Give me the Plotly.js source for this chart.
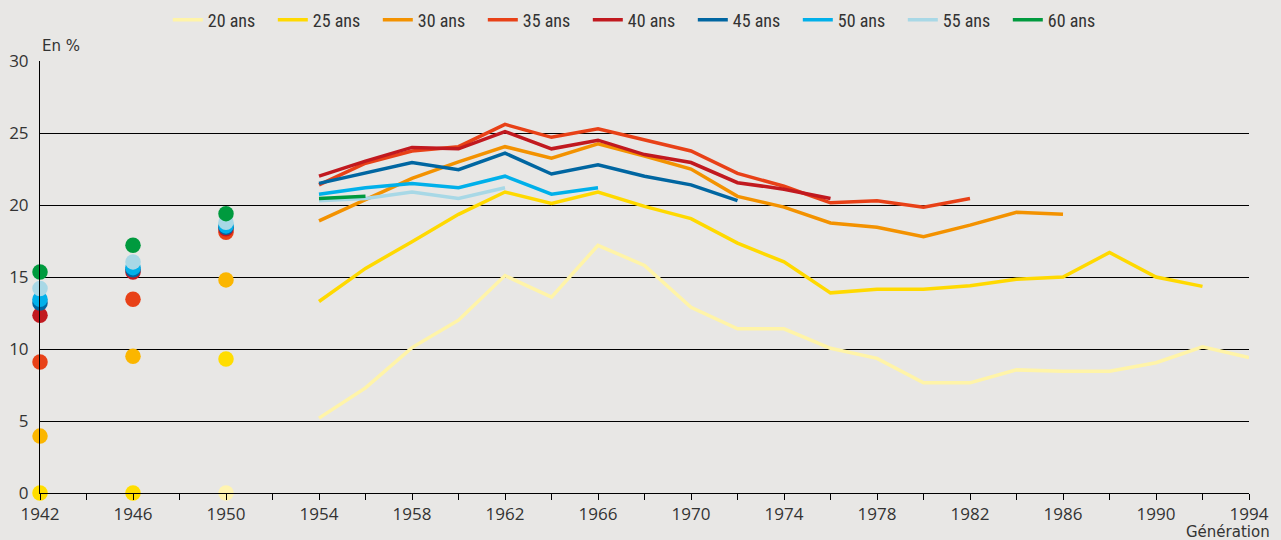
<!DOCTYPE html>
<html>
<head>
<meta charset="utf-8">
<script src="https://cdn.plot.ly/plotly-3.0.1.min.js"></script>
<style>html,body{margin:0;padding:0;background:#E8E7E5;}#chart{width:1281px;height:540px;}</style>
</head>
<body>
<div id="chart"></div>
<script>
// Dots (early generations)
const dotYears = [1942, 1946, 1950];
const dots20 = [0, 0, 0];
const dots25 = [0, 0, 9.3];
const dots30 = [3.95, 9.5, 14.8];
const dots35 = [9.1, 13.45, 18.1];
const dots40 = [12.35, 15.35, 18.35];
const dots45 = [13.2, 15.5, 18.45];
const dots50 = [13.45, 15.65, 18.55];
const dots55 = [14.2, 16.05, 18.8];
const dots60 = [15.35, 17.2, 19.4];

// Lines (generations 1954 onward, every 2 years)
const years20 = [1954,1956,1958,1960,1962,1964,1966,1968,1970,1972,1974,1976,1978,1980,1982,1984,1986,1988,1990,1992,1994];
const line20 = [5.2, 7.3, 10.1, 12.0, 15.1, 13.6, 17.2, 15.8, 12.9, 11.4, 11.4, 10.05, 9.35, 7.65, 7.65, 8.55, 8.45, 8.45, 9.05, 10.15, 9.4];
const years25 = [1954,1956,1958,1960,1962,1964,1966,1968,1970,1972,1974,1976,1978,1980,1982,1984,1986,1988,1990,1992];
const line25 = [13.3, 15.6, 17.45, 19.35, 20.9, 20.1, 20.9, 19.9, 19.05, 17.35, 16.05, 13.9, 14.15, 14.15, 14.4, 14.85, 15.0, 16.7, 15.0, 14.35];
const years30 = [1954,1956,1958,1960,1962,1964,1966,1968,1970,1972,1974,1976,1978,1980,1982,1984,1986];
const line30 = [18.9, 20.4, 21.85, 23.0, 24.05, 23.25, 24.25, 23.4, 22.5, 20.6, 19.85, 18.75, 18.45, 17.8, 18.6, 19.5, 19.35];
const years35 = [1954,1956,1958,1960,1962,1964,1966,1968,1970,1972,1974,1976,1978,1980,1982];
const line35 = [21.4, 22.9, 23.75, 24.05, 25.6, 24.7, 25.3, 24.5, 23.75, 22.2, 21.3, 20.15, 20.3, 19.85, 20.45];
const years40 = [1954,1956,1958,1960,1962,1964,1966,1968,1970,1972,1974,1976];
const line40 = [22.0, 23.05, 24.0, 23.9, 25.1, 23.9, 24.5, 23.5, 22.95, 21.55, 21.1, 20.45];
const years45 = [1954,1956,1958,1960,1962,1964,1966,1968,1970,1972];
const line45 = [21.5, 22.25, 22.95, 22.45, 23.6, 22.15, 22.8, 22.0, 21.4, 20.3];
const years50 = [1954,1956,1958,1960,1962,1964,1966];
const line50 = [20.75, 21.2, 21.5, 21.2, 22.0, 20.75, 21.2];
const years55 = [1954,1956,1958,1960,1962];
const line55 = [20.3, 20.45, 20.9, 20.45, 21.2];
const years60 = [1954,1956];
const line60 = [20.45, 20.6];

const names = ["20 ans","25 ans","30 ans","35 ans","40 ans","45 ans","50 ans","55 ans","60 ans"];
const lineColors = ["#FFF4A8","#FFD900","#F39200","#E84117","#C1191F","#0066A1","#00B0EA","#A8D8E6","#009A3E"];
const dotColors  = ["#FFF4B0","#FFDD00","#FBB600","#E84117","#C1191F","#0066A1","#00B0EA","#A8D8E6","#009A3E"];

const lineX = [years20, years25, years30, years35, years40, years45, years50, years55, years60];
const lineY = [line20, line25, line30, line35, line40, line45, line50, line55, line60];
const dotY  = [dots20, dots25, dots30, dots35, dots40, dots45, dots50, dots55, dots60];

const traces = [];
for (let i = 0; i < names.length; i++) {
  traces.push({
    x: lineX[i], y: lineY[i], type: "scatter", mode: "lines", name: names[i],
    line: {color: lineColors[i], width: 3.5}, legendgroup: names[i], showlegend: true,
    cliponaxis: false
  });
}
for (let i = 0; i < names.length; i++) {
  traces.push({
    x: dotYears, y: dotY[i], type: "scatter", mode: "markers", name: names[i],
    marker: {color: dotColors[i], size: 15.5, line: {width: 0}}, legendgroup: names[i], showlegend: false,
    cliponaxis: false
  });
}

const tickVals = [];
const tickText = [];
for (let y = 1942; y <= 1994; y += 2) {
  tickVals.push(y);
  tickText.push(((y - 1942) % 4 === 0) ? String(y) : "");
}

const layout = {
  width: 1281, height: 540,
  paper_bgcolor: "#E8E7E5", plot_bgcolor: "#E8E7E5",
  margin: {l: 40, r: 32, t: 61, b: 47},
  font: {family: "Open Sans, sans-serif", color: "#333333", size: 17},
  showlegend: true,
  legend: {
    orientation: "h", xref: "container", yref: "container",
    x: 0.131, xanchor: "left", y: 0.963, yanchor: "middle",
    font: {family: "Liberation Sans Narrow, Roboto Condensed, Open Sans, sans-serif", size: 18, color: "#333333"},
    bgcolor: "rgba(0,0,0,0)", entrywidth: 60, entrywidthmode: "pixels",
    itemwidth: 30, traceorder: "normal"
  },
  xaxis: {
    range: [1942, 1994], tickmode: "array", tickvals: tickVals, ticktext: tickText,
    ticks: "outside", ticklen: 6, tickwidth: 1, tickcolor: "#000",
    showline: true, linecolor: "#000", linewidth: 1, showgrid: false, zeroline: false,
    tickfont: {size: 17, color: "#333333"}, fixedrange: true, ticklabelstandoff: 0
  },
  yaxis: {
    range: [0, 30], tickvals: [0,5,10,15,20,25,30], ticks: "",
    showline: true, linecolor: "#000", linewidth: 1,
    showgrid: true, gridcolor: "#000", gridwidth: 1, zeroline: false,
    tickfont: {size: 17, color: "#333333"}, fixedrange: true, ticklabelstandoff: 7
  },
  annotations: [
    {text: "En %", xref: "paper", yref: "paper", x: 0, y: 1.035, xanchor: "left", yanchor: "middle",
     showarrow: false, font: {family: "DejaVu Sans, sans-serif", size: 15, color: "#333333"}},
    {text: "Génération", xref: "paper", yref: "paper", x: 1.019, y: -0.09, xanchor: "right", yanchor: "middle",
     showarrow: false, font: {family: "DejaVu Sans, sans-serif", size: 15, color: "#333333"}}
  ]
};

Plotly.newPlot("chart", traces, layout, {displayModeBar: false, staticPlot: true});
</script>
</body>
</html>
